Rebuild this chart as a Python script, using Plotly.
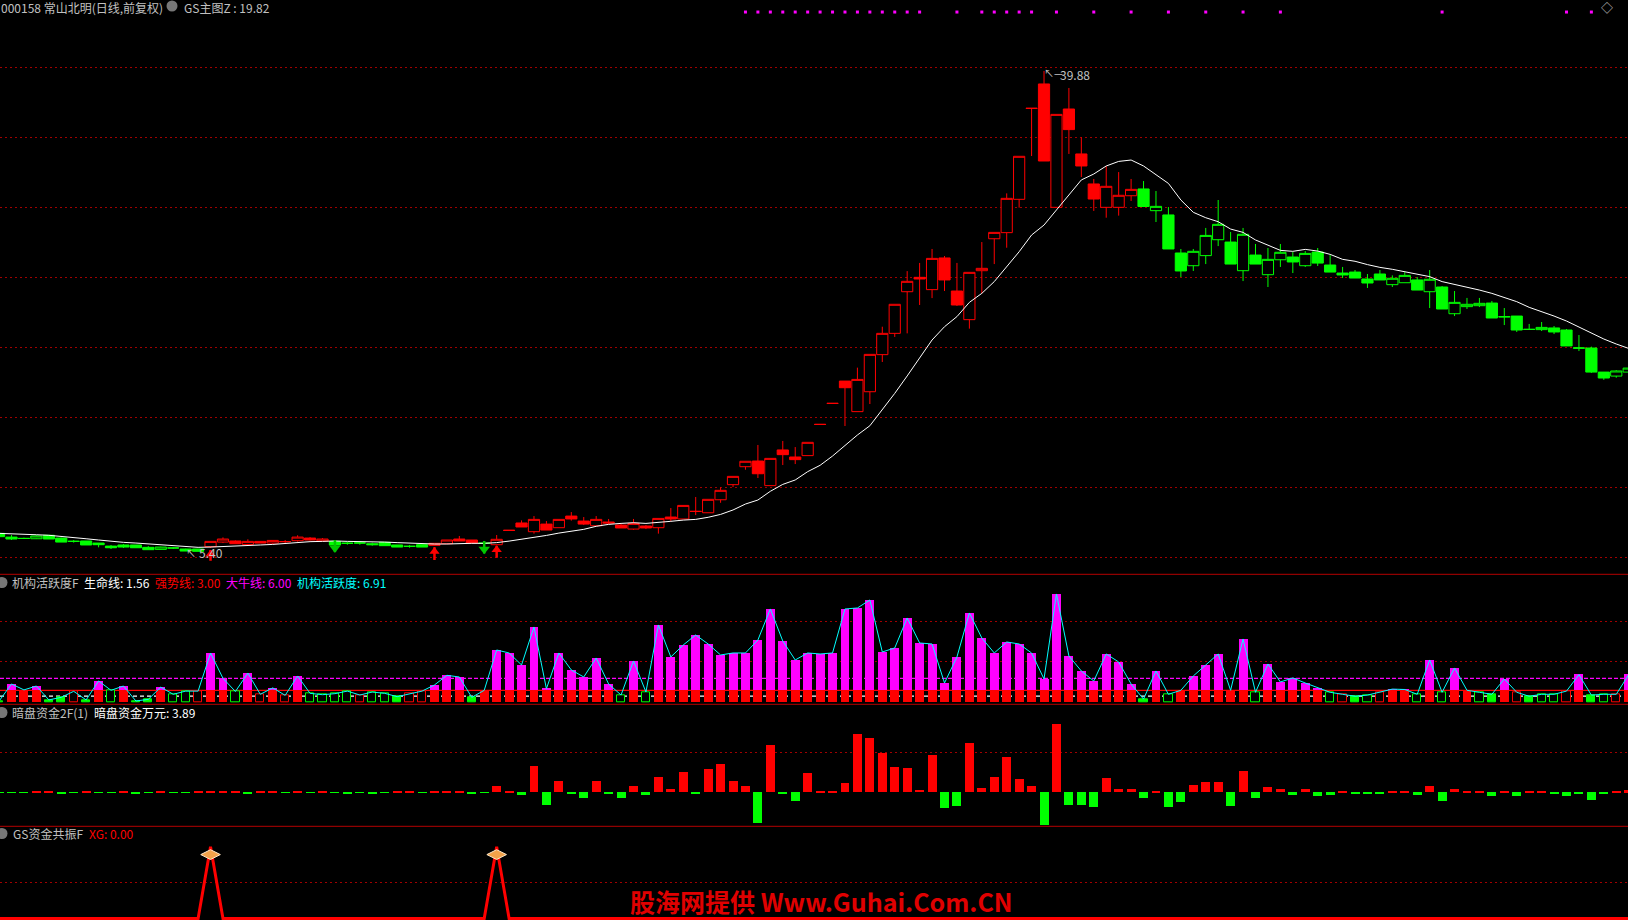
import plotly.graph_objects as go

W, H = 1628, 920
RED, GREEN, MAG, CYAN = "#ff0000", "#00ff00", "#ff00ff", "#00ffff"
GRAY = "#c0c0c0"
FONT = "Noto Sans CJK SC"

first_index = -1
opens = [6.45,6.18,6.09,6.06,6.31,6.11,5.88,5.90,5.75,5.53,5.61,5.61,5.44,5.29,5.40,5.32,5.32,
 5.49,5.82,5.90,5.65,5.87,5.75,5.86,5.92,6.11,5.90,5.87,5.74,5.76,5.70,5.80,5.61,5.52,5.63,
 5.58,5.70,6.04,5.97,5.74,5.63,6.68,7.20,6.57,7.12,6.86,7.70,7.34,7.00,7.27,7.05,6.76,6.98,
 6.86,7.63,7.49,8.05,7.94,8.88,9.97,11.27,11.68,9.90,12.48,11.97,12.07,14.34,15.86,17.46,15.25,16.69,
 19.37,20.91,23.92,24.96,24.07,26.36,23.97,21.90,25.44,27.75,28.19,30.60,37.19,38.94,30.02,37.13,33.88,31.71,
 30.02,30.02,30.86,31.35,29.78,29.47,26.72,25.80,26.53,27.68,27.51,25.44,26.57,25.15,26.23,26.43,25.80,26.79,
 25.85,25.27,25.34,24.84,25.20,24.43,24.57,24.77,23.92,24.26,22.33,22.84,22.91,23.10,22.12,22.16,21.21,21.18,
 21.30,21.15,19.86,19.85,18.11,17.82,18.11]
highs = [6.45,6.33,6.14,6.31,6.31,6.14,5.97,5.90,5.75,5.61,5.68,5.61,5.53,5.49,5.46,5.34,5.32,
 5.87,6.16,5.94,6.02,5.87,5.94,5.97,6.31,6.18,6.11,5.97,5.82,5.85,5.78,5.80,5.61,5.61,5.63,
 5.75,5.97,6.26,5.97,5.90,6.33,6.68,7.39,7.70,7.34,7.46,7.99,7.63,7.70,7.49,7.12,7.49,7.05,
 7.53,8.28,8.47,9.08,8.91,9.78,10.57,11.66,12.84,11.87,13.13,12.69,13.03,14.34,15.86,17.46,18.43,19.39,
 21.39,23.01,25.41,26.00,27.01,26.50,26.00,25.32,27.51,28.21,31.03,33.71,37.19,39.88,36.74,38.65,35.08,32.07,
 33.01,32.57,32.07,31.92,31.20,30.04,27.01,27.01,28.53,30.55,28.24,28.53,27.37,27.08,27.37,26.79,26.86,27.08,
 26.57,25.71,25.49,25.20,25.49,25.10,25.34,24.98,25.49,24.33,23.97,23.47,23.47,23.25,22.74,22.16,21.59,21.73,
 21.44,21.22,20.79,19.95,18.11,18.25,18.60]
lows = [6.21,5.97,6.04,6.04,6.04,5.82,5.78,5.61,5.44,5.32,5.39,5.41,5.27,5.27,5.32,5.17,5.15,
 5.40,5.75,5.70,5.61,5.75,5.68,5.75,5.85,5.94,5.90,5.61,5.63,5.63,5.56,5.56,5.46,5.41,5.46,
 5.56,5.70,5.90,5.75,5.68,5.63,6.66,6.91,6.43,6.69,6.86,7.37,7.05,7.00,7.12,6.84,6.71,6.76,
 6.43,7.32,7.49,7.77,7.94,8.66,9.80,11.05,10.45,9.90,11.39,11.46,12.07,14.32,15.84,14.21,15.25,15.80,
 18.84,20.65,20.91,22.96,23.46,23.97,22.89,21.25,23.80,25.92,27.10,30.00,33.73,33.37,30.02,33.88,32.21,29.76,
 29.27,29.42,30.48,30.04,28.96,27.01,24.98,25.42,25.92,27.22,25.92,24.69,25.92,24.26,25.71,25.27,25.71,25.78,
 25.34,24.91,24.91,24.19,24.77,24.26,24.57,24.04,22.74,22.67,22.16,22.67,22.81,22.02,21.51,21.01,21.19,21.08,
 20.86,20.00,19.63,18.05,17.55,17.70,18.00]
closes = [6.21,6.04,6.08,6.26,6.04,5.82,5.87,5.61,5.63,5.41,5.46,5.41,5.27,5.46,5.39,5.17,5.15,
 5.87,6.04,5.70,5.87,5.75,5.94,5.85,6.18,5.97,6.04,5.61,5.73,5.75,5.63,5.56,5.46,5.51,5.46,
 5.73,5.97,5.90,5.75,5.73,6.02,6.66,6.91,7.46,6.69,7.46,7.49,7.12,7.46,7.20,6.84,7.17,6.84,
 7.53,7.49,8.47,8.03,8.91,9.56,10.57,11.66,10.76,11.87,12.14,11.78,13.03,14.32,15.84,16.98,17.58,19.39,
 20.91,23.01,24.67,24.84,26.33,24.77,22.96,25.32,25.61,28.21,30.67,33.71,37.17,33.37,36.74,35.64,33.01,30.62,
 31.54,30.89,31.32,30.08,30.09,27.01,25.42,26.84,27.99,28.79,25.92,28.07,25.92,26.26,26.77,26.07,26.69,25.99,
 25.34,25.13,24.91,24.55,24.77,24.89,25.10,24.04,24.82,22.67,23.15,23.01,23.08,22.02,22.10,21.15,21.19,21.34,
 21.01,20.00,19.84,18.11,17.68,18.19,18.40]
ma_line = [6.45,6.43,6.38,6.35,6.31,6.21,6.14,6.06,5.97,5.87,5.80,5.75,5.68,5.63,5.56,5.49,5.44,
 5.46,5.51,5.56,5.58,5.61,5.65,5.73,5.80,5.85,5.87,5.90,5.87,5.87,5.85,5.82,5.78,5.73,5.68,
 5.68,5.68,5.73,5.73,5.73,5.78,5.89,6.02,6.18,6.30,6.47,6.59,6.74,6.96,7.10,7.17,7.22,7.17,
 7.27,7.32,7.41,7.46,7.61,7.82,8.14,8.57,8.86,9.49,9.99,10.31,10.91,11.37,12.04,12.79,13.56,14.23,
 15.37,16.57,17.83,19.13,20.43,21.39,22.12,23.15,23.80,24.65,25.73,26.81,28.02,28.74,29.83,30.91,32.00,32.43,
 33.01,33.34,33.44,33.01,32.36,31.75,30.55,29.66,29.27,28.98,28.45,28.21,27.66,27.27,26.91,26.84,26.98,26.86,
 26.62,26.26,26.12,25.88,25.68,25.54,25.37,25.18,25.01,24.65,24.45,24.26,24.04,23.80,23.51,23.20,22.79,22.48,
 22.16,21.80,21.37,20.93,20.50,20.14,19.82]
candle_side = ["g"]*17 + ["r"]*10 + ["g"]*8 + ["r"]*4 + ["g"] + ["r"]*52 + ["g"]*40

# 机构活跃度
activity = [0.3,4.58,3.1,4.07,0.6,1.24,2.74,0.6,5.33,3.0,4.07,0.33,0.74,3.8,2.0,2.8,2.8,
 12.3,6.0,2.7,7.3,2.0,3.6,1.74,6.58,2.24,1.9,2.16,2.8,1.82,2.57,2.24,1.41,2.16,2.8,
 4.33,6.74,6.33,1.24,3.0,13.08,12.33,9.33,18.83,3.4,12.33,8.08,6.33,11.08,4.58,1.82,10.33,2.58,
 19.33,11.33,14.33,16.83,14.58,11.83,12.33,12.33,15.58,23.33,15.33,10.58,12.33,12.08,12.33,23.33,23.58,25.58,
 12.58,13.58,21.08,14.83,14.58,4.83,11.33,22.33,16.08,12.33,15.08,14.58,12.33,5.83,27.08,11.58,7.83,5.33,
 12.08,10.08,4.58,0.8,7.83,2.0,3.0,6.58,9.33,12.08,3.0,15.83,2.5,9.58,5.08,6.08,4.83,3.6,
 2.5,2.0,1.5,1.8,2.5,3.3,3.2,2.0,10.58,2.5,8.58,3.0,2.5,2.0,5.83,2.5,1.5,2.0,
 2.0,2.8,6.9,1.8,2.0,2.0,6.91]
low_style = ["G","","","","G","G","r","G","","g","","G","G","","g","g","r",
 "","","g","","r","","r","","g","g","g","g","r","g","g","G","r","r",
 "","","","G","","","","","","","","","","","","g","","g",
 "","","","","","","","","","","","","","","","","","",
 "","","","","","","","","","","","","","","","","","",
 "","","","G","","g","","","","","","","g","","","","","",
 "g","r","G","g","r","","","g","","g","","","g","G","","r","G","g",
 "g","r","","G","g","r",""]
life_level, strong_level, bull_level = 1.56, 3.00, 6.00

# 暗盘资金
dark_funds = [-1,-1,-1,1,1,-2,-1,1,-1,-1,1,-2,-1,1,-1,-1,1,
 2,2,3,-2,2,1,-1,1,-1,1,-1,-2,-1,-2,-1,1,1,-1,
 2,2,1,-3,-1,13,1,-5,53,-26,23,-3,-11,23,-3,-11,13,-5,
 31,7,41,-3,47,57,23,13,-62,95,-3,-17,39,1,1,19,117,109,
 79,51,49,5,75,-32,-28,99,9,31,71,27,13,-65,137,-25,-25,-30,
 29,7,7,-11,3,-30,-20,15,21,21,-27,43,-11,11,7,-5,7,-7,
 -5,1,-3,-3,-3,3,3,-5,13,-17,7,1,1,-7,1,-7,1,1,
 -3,-7,-2,-15,-3,2,3.89]

signal_high = [16, 39]
buy_idx, buy_tail, buy_tip = [16, 34, 39], [4.47, 4.52, 4.69], [5.24, 5.44, 5.56]
sell_idx, sell_tail, sell_tip = [26, 38], [5.97, 5.90], [5.10, 5.00]
dot_idx = list(range(59, 74)) + [76, 78, 79, 80, 81, 82, 84, 87, 90, 93, 96, 99, 102, 115, 125, 127]
dot_level = 44.14

idx = list(range(first_index, first_index + len(opens)))
for arr in (highs, lows, closes, ma_line, candle_side, activity, low_style, dark_funds):
    assert len(arr) == len(opens), len(arr)

xg = [1 if i in signal_high else 0 for i in idx]

def fy(y_px):
    return 1 - y_px / H

fig = go.Figure()

def candle(side, color):
    s = [k for k, c in enumerate(candle_side) if c == side]
    fig.add_trace(go.Candlestick(
        x=[idx[k] for k in s], open=[opens[k] for k in s], high=[highs[k] for k in s],
        low=[lows[k] for k in s], close=[closes[k] for k in s], whiskerwidth=0,
        increasing=dict(line=dict(color=color, width=1), fillcolor="#000000"),
        decreasing=dict(line=dict(color=color, width=1), fillcolor=color), yaxis="y"))

candle("r", RED)
candle("g", GREEN)
fig.add_trace(go.Scatter(x=idx, y=ma_line, mode="lines", line=dict(color="#ffffff", width=1), yaxis="y"))

# arrows
def stems(ids, tails, tips):
    xs, ys = [], []
    for i, a, b in zip(ids, tails, tips):
        xs += [i, i, None]
        ys += [a, b, None]
    return xs, ys

sx, sy = stems(buy_idx, buy_tail, buy_tip)
fig.add_trace(go.Scatter(x=sx, y=sy, mode="lines", line=dict(color=RED, width=2.5), yaxis="y"))
sx, sy = stems(sell_idx, sell_tail, sell_tip)
fig.add_trace(go.Scatter(x=sx, y=sy, mode="lines", line=dict(color="#00c800", width=2.5), yaxis="y"))
fig.add_trace(go.Scatter(x=buy_idx, y=[t - 0.30 for t in buy_tip], mode="markers",
                         marker=dict(symbol="triangle-up", size=9, color=RED), yaxis="y"))
fig.add_trace(go.Scatter(x=sell_idx, y=[t + 0.30 for t in sell_tip], mode="markers",
                         marker=dict(symbol="triangle-down", size=10, color="#00c800"), yaxis="y"))
fig.add_trace(go.Scatter(x=dot_idx, y=[dot_level] * len(dot_idx), mode="markers",
                         marker=dict(symbol="square", size=3, color=MAG), yaxis="y"))

# activity panel
hi = [k for k, v in enumerate(low_style) if v == ""]
fig.add_trace(go.Bar(x=[idx[k] for k in hi], y=[activity[k] for k in hi], width=0.72,
                     marker=dict(color=MAG, line=dict(width=0)), yaxis="y2"))
fig.add_trace(go.Bar(x=[idx[k] for k in hi], y=[min(activity[k], strong_level) for k in hi], width=0.72,
                     marker=dict(color=RED, line=dict(width=0)), yaxis="y2"))
lo = [k for k, v in enumerate(low_style) if v != ""]
style_fill = {"G": GREEN, "g": "#000000", "r": "#000000"}
style_line = {"G": GREEN, "g": GREEN, "r": RED}
fig.add_trace(go.Bar(x=[idx[k] for k in lo], y=[activity[k] for k in lo], width=0.66,
                     marker=dict(color=[style_fill[low_style[k]] for k in lo],
                                 line=dict(color=[style_line[low_style[k]] for k in lo], width=1)),
                     yaxis="y2"))
fig.add_trace(go.Scatter(x=idx, y=activity, mode="lines", line=dict(color=CYAN, width=1), yaxis="y2"))

# dark funds panel
fig.add_trace(go.Bar(x=idx, y=dark_funds, width=0.72, marker=dict(color=[RED if v > 0 else GREEN for v in dark_funds],
                     line=dict(width=0)), yaxis="y3"))

# XG panel
fig.add_trace(go.Scatter(x=idx, y=xg, mode="lines", line=dict(color=RED, width=3), yaxis="y4"))
peak_x = [i for i, v in zip(idx, xg) if v == 1]
fig.add_trace(go.Scatter(x=peak_x, y=[0.89] * len(peak_x), mode="markers",
                         marker=dict(symbol="diamond-wide", size=14, color="#f2a24a",
                                     line=dict(color="#ffe8c8", width=1)), yaxis="y4"))

def pan_axis(y_top, y_bot, lo_val, hi_val, ticks):
    return dict(domain=[fy(y_bot), fy(y_top)], range=[lo_val, hi_val], tickvals=ticks, showticklabels=False,
                ticks="", showgrid=True, gridcolor="#a00000", griddash="2px,3px", gridwidth=1,
                zeroline=False, showline=False, fixedrange=True, anchor="x")

shapes = []
for yp in (574.3, 704.3, 826.3):
    shapes.append(dict(type="line", xref="paper", yref="paper", x0=0, x1=1, y0=fy(yp), y1=fy(yp),
                       line=dict(color="#b40000", width=1)))
for level, color, dash, width in ((life_level, "#ffffff", "4px,3px", 1.2), (strong_level, RED, "solid", 1.2),
                                  (bull_level, MAG, "4px,2px", 1.3)):
    shapes.append(dict(type="line", xref="paper", yref="y2", x0=0, x1=1, y0=level, y1=level, layer="below",
                       line=dict(color=color, width=width, dash=dash)))
# header icons
for cx, cy in ((172, 6), (2, 582.5), (2, 712.5), (2, 833.5)):
    shapes.append(dict(type="circle", xref="paper", yref="paper", x0=(cx-5.5)/W, x1=(cx+5.5)/W,
                       y0=fy(cy+5.5), y1=fy(cy-5.5), fillcolor="#777777", line=dict(width=0)))

def label(x, y, text, color=GRAY, size=12, weight=None):
    return dict(xref="paper", yref="paper", x=x / W, y=fy(y), text=text, showarrow=False, xanchor="left",
                yanchor="middle", font=dict(family=FONT, size=size, color=color, weight=weight),
                align="left", borderpad=0)

annotations = [
    label(0, 7, "000158 常山北明(日线,前复权)"),
    label(183, 7, "GS主图Z : 19.82"),
    label(11, 582, "机构活跃度F"),
    label(83, 582, "生命线: 1.56", "#ffffff"),
    label(154, 582, "强势线: 3.00", RED),
    label(225, 582, "大牛线: 6.00", MAG),
    label(296, 582, "机构活跃度: 6.91", CYAN),
    label(11, 712, "暗盘资金2F(1)"),
    label(93, 712, "暗盘资金万元: 3.89", "#ffffff"),
    label(11.5, 833.5, "GS资金共振F"),
    label(88, 833.5, "XG: 0.00", RED),
    label(1043, 72, "↖—", GRAY, 10),
    label(1058.5, 74.7, "39.88"),
    label(185, 552, "↖", GRAY, 10),
    label(198, 552.7, "5.40"),
    label(1600, 7, "◇", GRAY, 12),
    label(629, 901, "股海网提供 Www.Guhai.Com.CN", "#e00000", 25, "bold"),
]

fig.update_layout(
    width=W, height=H, autosize=False, margin=dict(l=0, r=0, t=0, b=0), showlegend=False,
    paper_bgcolor="#000000", plot_bgcolor="#000000", barmode="overlay", boxgap=0.1, boxgroupgap=0,
    bargap=0, hovermode=False, shapes=shapes, annotations=annotations,
    xaxis=dict(domain=[0, 1], range=[-11.5 / 12.44, (W - 11.5) / 12.44], showticklabels=False, ticks="",
               showgrid=False, zeroline=False, showline=False, rangeslider=dict(visible=False), fixedrange=True,
               anchor="y4"),
    yaxis=pan_axis(0, 574.3, 3.49, 45.01, [40.14, 35.08, 30.02, 24.96, 19.90, 14.84, 9.78, 4.72]),
    yaxis2=pan_axis(574.3, 704.3, -0.5, 32.0, [10.25, 20.25]),
    yaxis3=pan_axis(704.3, 826.3, -67.6, 176.4, [80.4]),
    yaxis4=pan_axis(826.3, 920, -0.021, 1.284, [0.5]),
)

fig.write_html("out.html", config=dict(displayModeBar=False),
               post_script="document.body.style.margin='0';document.body.style.background='#000';document.body.style.overflow='hidden';")
